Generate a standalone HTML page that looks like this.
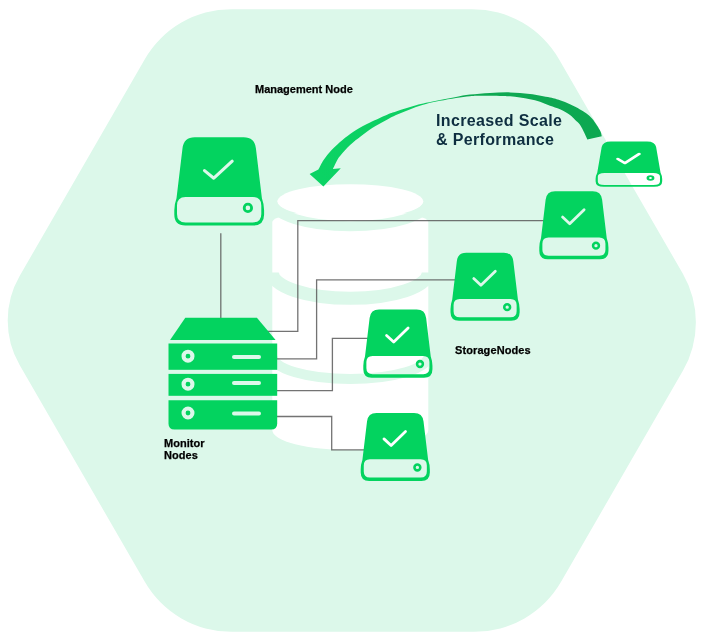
<!DOCTYPE html>
<html>
<head>
<meta charset="utf-8">
<style>
html,body{margin:0;padding:0;background:#ffffff;}
body{width:707px;height:641px;overflow:hidden;position:relative;font-family:"Liberation Sans",sans-serif;-webkit-font-smoothing:antialiased;}
svg{position:absolute;left:0;top:0;}
.lbl{position:absolute;will-change:transform;font-weight:bold;color:#000;-webkit-text-stroke:0.25px #000;font-size:11px;line-height:12px;white-space:nowrap;}
.big{position:absolute;will-change:transform;font-weight:bold;color:#0e2e40;font-size:16px;line-height:19px;white-space:nowrap;letter-spacing:0.35px;}
</style>
</head>
<body>
<svg width="707" height="641" viewBox="0 0 707 641">
  <defs>
    <mask id="chk" maskUnits="userSpaceOnUse" x="-10" y="-10" width="110" height="110">
      <rect x="-10" y="-10" width="110" height="110" fill="#fff"/>
      <polyline points="30.2,33.4 39.5,41.0 57.9,24" fill="none" stroke="#000" stroke-width="3.1" stroke-linecap="round" stroke-linejoin="round"/>
    </mask>
    <mask id="chk2" maskUnits="userSpaceOnUse" x="-10" y="-10" width="110" height="110">
      <rect x="-10" y="-10" width="110" height="110" fill="#fff"/>
      <polyline points="30.2,33.6 39.5,42.2 58.2,24" fill="none" stroke="#000" stroke-width="3.6" stroke-linecap="round" stroke-linejoin="round"/>
    </mask>
    <g id="drives">
      <path fill-rule="evenodd" fill="#03d35f" mask="url(#chk2)" d="M20.5,0 L69.3,0 Q80.3,0 81.6,11 L87.6,61 Q89.8,67 89.8,73 L89.8,77.4 Q89.8,88.4 78.8,88.4 L11,88.4 Q0,88.4 0,77.4 L0,73 Q0,67 2.2,61 L8.2,11 Q9.5,0 20.5,0 Z M12,60.1 L77.9,60.1 Q85.9,60.1 85.9,68.1 L85.9,75.9 Q85.9,83.9 77.9,83.9 L12,83.9 Q4,83.9 4,75.9 L4,68.1 Q4,60.1 12,60.1 Z"/>
      <circle cx="73.6" cy="70.7" r="3.8" fill="none" stroke="#03d35f" stroke-width="3.3"/>
    </g>
    <mask id="chk3" maskUnits="userSpaceOnUse" x="-10" y="-10" width="110" height="110">
      <rect x="-10" y="-10" width="110" height="110" fill="#fff"/>
      <polyline points="29.8,34.1 39.5,42.3 58.8,24.5" fill="none" stroke="#000" stroke-width="4.6" stroke-linecap="round" stroke-linejoin="round"/>
    </mask>
    <g id="drivet">
      <path fill-rule="evenodd" fill="#03d35f" mask="url(#chk3)" d="M20.5,0 L69.3,0 Q80.3,0 81.6,11 L87.6,61 Q89.8,67 89.8,73 L89.8,77.4 Q89.8,88.4 78.8,88.4 L11,88.4 Q0,88.4 0,77.4 L0,73 Q0,67 2.2,61 L8.2,11 Q9.5,0 20.5,0 Z M12,61.3 L77.8,61.3 Q86.8,61.3 86.8,68.3 L86.8,77.9 Q86.8,84.9 77.8,84.9 L12,84.9 Q3,84.9 3,77.9 L3,68.3 Q3,61.3 12,61.3 Z"/>
      <circle cx="74" cy="71.3" r="3.6" fill="none" stroke="#03d35f" stroke-width="3.4"/>
    </g>
    <g id="drive">
      <path fill-rule="evenodd" fill="#03d35f" mask="url(#chk)" d="M20.5,0 L69.3,0 Q80.3,0 81.6,11 L87.6,61 Q89.8,67 89.8,73 L89.8,77.4 Q89.8,88.4 78.8,88.4 L11,88.4 Q0,88.4 0,77.4 L0,73 Q0,67 2.2,61 L8.2,11 Q9.5,0 20.5,0 Z M11.2,59.7 L78.5,59.7 Q87,59.7 87,68.2 L87,76.7 Q87,85.2 78.5,85.2 L11.2,85.2 Q2.7,85.2 2.7,76.7 L2.7,68.2 Q2.7,59.7 11.2,59.7 Z"/>
      <circle cx="73.6" cy="70.7" r="3.7" fill="none" stroke="#03d35f" stroke-width="2.8"/>
    </g>
    <linearGradient id="arrowg" x1="320" y1="0" x2="600" y2="0" gradientUnits="userSpaceOnUse">
      <stop offset="0" stop-color="#0bd364"/>
      <stop offset="0.36" stop-color="#0dce62"/>
      <stop offset="0.52" stop-color="#0fa852"/>
      <stop offset="1" stop-color="#0ca851"/>
    </linearGradient>
  </defs>

  <!-- rounded hexagon background -->
  <path d="M472.39,9.20 A100,100 0 0 1 559.00,59.20 L682.89,273.80 A97,97 0 0 1 682.89,370.80 L561.07,581.80 A100,100 0 0 1 474.47,631.80 L231.41,631.80 A100,100 0 0 1 144.80,581.80 L19.63,365.00 A89,89 0 0 1 19.63,276.00 L144.80,59.20 A100,100 0 0 1 231.41,9.20 Z" fill="#dcf8ea"/>

  <!-- database cylinder -->
  <g>
    <path d="M272.3,222 L272.3,430 A78,20 0 0 0 428.3,430 L428.3,222 A78,12 0 0 0 272.3,222 Z" fill="#ffffff"/>
    <ellipse cx="350.3" cy="201.5" rx="73" ry="17.3" fill="#ffffff"/>
    <g fill="none" stroke="#dcf8ea">
      <path d="M272.3,202 A78,24.2 0 0 0 428.3,202" stroke-width="10"/>
      <path d="M272.3,272.5 A78,25.8 0 0 0 428.3,272.5" stroke-width="13"/>
      <path d="M272.3,356 A78,23 0 0 0 428.3,356" stroke-width="10"/>
    </g>
  </g>

  <!-- connector lines -->
  <g fill="none" stroke="#5a5a5a" stroke-opacity="0.85" stroke-width="1.3">
    <line x1="220.8" y1="233.3" x2="220.8" y2="318"/>
    <polyline points="266,331.3 297.8,331.3 297.8,220.7 548,220.7"/>
    <polyline points="276,358.8 316.6,358.8 316.6,279.8 459,279.8"/>
    <polyline points="276,390.7 332.4,390.7 332.4,338.4 372,338.4"/>
    <polyline points="276,416.5 331.7,416.5 331.7,449.8 369,449.8"/>
  </g>

  <!-- server / monitor nodes -->
  <g fill="#03d35f">
    <path d="M185.3,317.7 L256.9,317.7 L275.6,340 L170.1,340 Z"/>
    <rect x="168.5" y="343.5" width="108.7" height="26.3"/>
    <rect x="168.5" y="373.9" width="108.7" height="21.9"/>
    <path d="M168.5,400.2 L277.2,400.2 L277.2,423.6 Q277.2,429.6 271.2,429.6 L174.5,429.6 Q168.5,429.6 168.5,423.6 Z"/>
  </g>
  <g fill="none" stroke="#dcf8ea">
    <circle cx="188" cy="356.2" r="4.45" stroke-width="4.1"/>
    <circle cx="188" cy="384.2" r="4.45" stroke-width="4.1"/>
    <circle cx="188" cy="413" r="4.45" stroke-width="4.1"/>
  </g>
  <g stroke="#dcf8ea" stroke-width="4" stroke-linecap="round">
    <line x1="234" y1="357" x2="259" y2="357"/>
    <line x1="234" y1="383" x2="259" y2="383"/>
    <line x1="234" y1="413.4" x2="259" y2="413.4"/>
  </g>

  <!-- drives -->
  <use href="#drive" transform="translate(174.3,137.2)"/>
  <use href="#drivet" transform="translate(595.6,141.4) scale(0.7416,0.5136)"/>
  <use href="#drives" transform="translate(539.3,191.2) scale(0.77)"/>
  <use href="#drives" transform="translate(450.5,252.7) scale(0.77)"/>
  <use href="#drives" transform="translate(363.3,309.6) scale(0.77)"/>
  <use href="#drives" transform="translate(360.7,413.0) scale(0.77)"/>

  <!-- curved arrow -->
  <path d="M309.6,173.9 L318.4,169.6 C319.27,168.00 321.40,163.27 323.60,160.00 C325.80,156.73 328.45,153.33 331.60,150.00 C334.75,146.67 338.93,143.00 342.50,140.00 C346.07,137.00 348.93,134.67 353.00,132.00 C357.07,129.33 361.40,126.80 366.90,124.00 C372.40,121.20 381.15,117.27 386.00,115.20 C390.85,113.13 392.67,112.75 396.00,111.60 C399.33,110.45 402.67,109.35 406.00,108.30 C409.33,107.25 412.67,106.22 416.00,105.30 C419.33,104.38 422.00,103.68 426.00,102.80 C430.00,101.92 435.00,100.98 440.00,100.00 C445.00,99.02 451.00,97.80 456.00,96.90 C461.00,96.00 464.33,95.25 470.00,94.60 C475.67,93.95 483.33,93.37 490.00,93.00 C496.67,92.63 503.33,92.22 510.00,92.40 C516.67,92.58 523.33,93.23 530.00,94.10 C536.67,94.97 545.00,96.57 550.00,97.60 C555.00,98.63 556.67,99.18 560.00,100.30 C563.33,101.42 566.67,102.78 570.00,104.30 C573.33,105.82 577.25,107.87 580.00,109.40 C582.75,110.93 584.50,111.97 586.50,113.50 C588.50,115.03 590.25,116.60 592.00,118.60 C593.75,120.60 595.58,123.35 597.00,125.50 C598.42,127.65 599.70,129.72 600.50,131.50 C601.30,133.28 601.58,135.42 601.80,136.20 L587.3,139.5 C586.82,138.43 585.62,135.55 584.40,133.10 C583.18,130.65 581.57,127.02 580.00,124.80 C578.43,122.58 576.67,121.43 575.00,119.80 C573.33,118.17 572.50,116.77 570.00,115.00 C567.50,113.23 563.33,110.75 560.00,109.20 C556.67,107.65 553.33,106.93 550.00,105.70 C546.67,104.47 543.33,102.87 540.00,101.80 C536.67,100.73 533.33,100.00 530.00,99.30 C526.67,98.60 523.33,98.10 520.00,97.60 C516.67,97.10 513.33,96.58 510.00,96.30 C506.67,96.02 505.00,95.98 500.00,95.90 C495.00,95.82 485.00,95.75 480.00,95.80 C475.00,95.85 474.00,95.85 470.00,96.20 C466.00,96.55 461.00,97.13 456.00,97.90 C451.00,98.67 445.00,99.80 440.00,100.80 C435.00,101.80 430.00,102.88 426.00,103.90 C422.00,104.92 419.33,105.73 416.00,106.90 C412.67,108.07 409.33,109.55 406.00,110.90 C402.67,112.25 399.33,113.45 396.00,115.00 C392.67,116.55 389.97,118.03 386.00,120.20 C382.03,122.37 376.33,125.37 372.20,128.00 C368.07,130.63 364.88,133.17 361.20,136.00 C357.52,138.83 353.48,141.83 350.10,145.00 C346.72,148.17 343.03,152.50 340.90,155.00 C338.77,157.50 338.63,157.65 337.30,160.00 C335.97,162.35 333.63,167.58 332.90,169.10 L340.8,168.3 L323.4,186.5 Z" fill="url(#arrowg)"/>
</svg>

<div class="big" style="left:436px;top:110.5px;">Increased Scale<br>&amp; Performance</div>
<div class="lbl" style="left:255px;top:83.3px;letter-spacing:0px;">Management Node</div>
<div class="lbl" style="left:455.3px;top:343.6px;letter-spacing:0.1px;">StorageNodes</div>
<div class="lbl" style="left:164px;top:437.3px;letter-spacing:0.05px;">Monitor<br>Nodes</div>
</body>
</html>
